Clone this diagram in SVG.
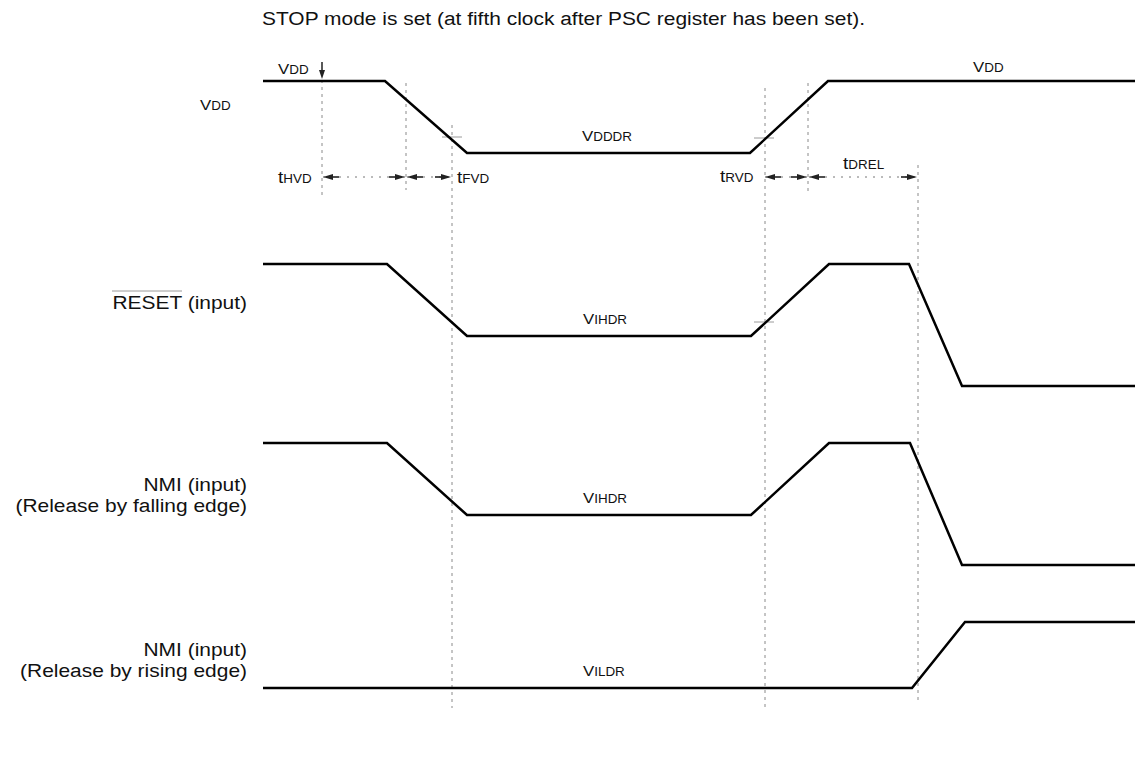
<svg xmlns="http://www.w3.org/2000/svg" width="1135" height="760" viewBox="0 0 1135 760">
<style>
.w{fill:none;stroke:#000;stroke-width:2.5;stroke-linejoin:miter}
.g{fill:none;stroke:#8a8a8a;stroke-width:1;stroke-dasharray:3 4}
.k{fill:none;stroke:#9a9a9a;stroke-width:1}
.d{fill:none;stroke:#777;stroke-width:1;stroke-dasharray:2 6}
text{font-family:"Liberation Sans",Arial,sans-serif;fill:#111}
.L{font-size:18.7px}
.V{font-size:15px}
.s{font-size:12px}
.t{font-size:17px}
</style>
<defs>
<marker id="ah" viewBox="0 0 16 6" refX="16" refY="3" markerWidth="16" markerHeight="6" markerUnits="userSpaceOnUse" orient="auto-start-reverse">
<rect x="0" y="2.2" width="7" height="1.6" fill="#222"/>
<path d="M6,0 L16,3 L6,6 z" fill="#222"/>
</marker>
</defs>

<g id="title">
<text class="L" transform="translate(262,25) scale(1.12,1)">STOP mode is set (at fifth clock after PSC register has been set).</text>
</g>

<g id="guides">
<path class="g" d="M322,80 V195"/>
<path class="g" d="M406,83 V190"/>
<path class="g" d="M452,125 V708"/>
<path class="g" d="M765,88 V708"/>
<path class="g" d="M808,83 V195"/>
<path class="g" d="M918,165 V700"/>
<path class="k" d="M442,137 H462 M754,138 H774 M754,322 H774"/>
<path fill="none" stroke="#222" stroke-width="1.5" d="M322,62 V72"/>
<path fill="#222" d="M319,70 L325,70 L322,79 z"/>
</g>

<g id="connectors">
<path class="d" d="M323,177 H405" marker-start="url(#ah)" marker-end="url(#ah)"/>
<path class="d" d="M407,177 H451" marker-start="url(#ah)" marker-end="url(#ah)"/>
<path class="d" d="M765,177 H807" marker-start="url(#ah)" marker-end="url(#ah)"/>
<path class="d" d="M809,177 H917" marker-start="url(#ah)" marker-end="url(#ah)"/>
</g>

<g id="vdd">
<text transform="translate(200,110) scale(1.12,1)"><tspan class="V">V</tspan><tspan class="s">DD</tspan></text>
<path class="w" d="M263,81 H385 L467,153 H750 L828,81 H1135"/>
<text transform="translate(278,74) scale(1.12,1)"><tspan class="V">V</tspan><tspan class="s">DD</tspan></text>
<text transform="translate(973,72) scale(1.12,1)"><tspan class="V">V</tspan><tspan class="s">DD</tspan></text>
<text transform="translate(582,141) scale(1.12,1)"><tspan class="V">V</tspan><tspan class="s">DDDR</tspan></text>
<text transform="translate(278,183) scale(1.12,1)"><tspan class="t">t</tspan><tspan class="s">HVD</tspan></text>
<text transform="translate(457,183) scale(1.12,1)"><tspan class="t">t</tspan><tspan class="s">FVD</tspan></text>
<text transform="translate(720,182) scale(1.12,1)"><tspan class="t">t</tspan><tspan class="s">RVD</tspan></text>
<text transform="translate(843,169) scale(1.12,1)"><tspan class="t">t</tspan><tspan class="s">DREL</tspan></text>
</g>

<g id="reset">
<text class="L" text-anchor="end" transform="translate(247,309) scale(1.12,1)">RESET (input)</text>
<path class="k" d="M112,291 H182"/>
<path class="w" d="M263,264 H387 L467,336 H751 L829,264 H909 L962,386 H1135"/>
<text transform="translate(583,324) scale(1.12,1)"><tspan class="V">V</tspan><tspan class="s">IHDR</tspan></text>
</g>

<g id="nmi-falling">
<text class="L" text-anchor="end" transform="translate(247,491) scale(1.12,1)">NMI (input)</text>
<text class="L" text-anchor="end" transform="translate(247,512) scale(1.12,1)">(Release by falling edge)</text>
<path class="w" d="M263,443 H387 L467,515 H751 L829,443 H910 L962,565 H1135"/>
<text transform="translate(583,503) scale(1.12,1)"><tspan class="V">V</tspan><tspan class="s">IHDR</tspan></text>
</g>

<g id="nmi-rising">
<text class="L" text-anchor="end" transform="translate(247,656) scale(1.12,1)">NMI (input)</text>
<text class="L" text-anchor="end" transform="translate(247,677) scale(1.12,1)">(Release by rising edge)</text>
<path class="w" d="M263,688 H912 L965,622 H1135"/>
<text transform="translate(583,676) scale(1.12,1)"><tspan class="V">V</tspan><tspan class="s">ILDR</tspan></text>
</g>
</svg>
